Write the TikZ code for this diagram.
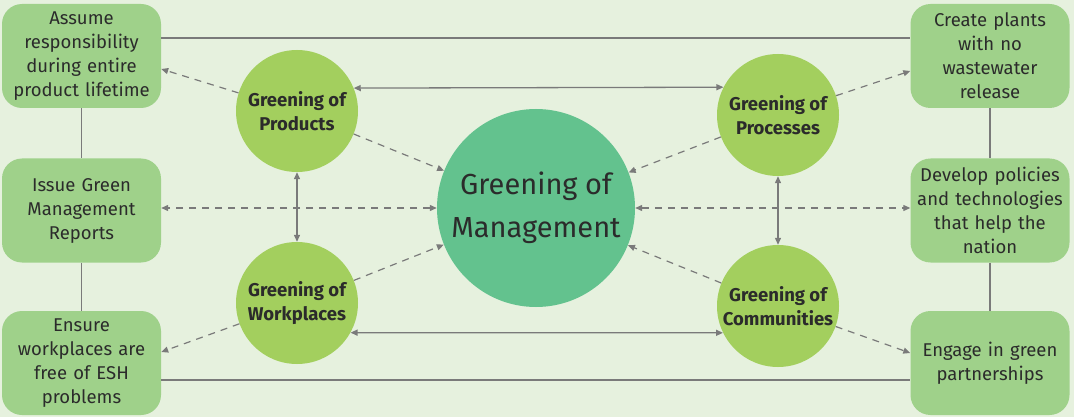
\documentclass[tikz,border=0pt]{standalone}
\usepackage{fontspec}
\setmainfont{Fira Sans}
\usetikzlibrary{arrows.meta}
\definecolor{bg}{HTML}{E6F1DE}
\definecolor{boxc}{HTML}{9FD18A}
\definecolor{smallc}{HTML}{A3CF5E}
\definecolor{bigc}{HTML}{63C28E}
\definecolor{linec}{HTML}{7A7A7A}
\definecolor{txtc}{HTML}{2B2B2B}
\begin{document}
\begin{tikzpicture}[x=1pt,y=-1pt,
  infobox/.style={fill=boxc,rounded corners=20pt,minimum width=159pt,minimum height=104pt,
    text width=155pt,align=center,inner sep=0pt,text=txtc,font=\fontsize{18.5}{24}\selectfont},
  smallcirc/.style={circle,fill=smallc,minimum size=122pt,inner sep=0pt,align=center,
    text=txtc,font=\fontsize{18.5}{24}\selectfont\bfseries},
  bigcirc/.style={circle,fill=bigc,minimum size=198pt,inner sep=0pt,align=center,
    text=txtc,font=\fontsize{29}{43}\selectfont},
  solidln/.style={draw=linec,line width=1.4pt},
  solidarr/.style={draw=linec,line width=1.3pt,{Triangle[length=7pt,width=6pt]}-{Triangle[length=7pt,width=6pt]}},
  dasharr/.style={draw=linec,line width=1.2pt,dash pattern=on 7pt off 6pt,-{Triangle[length=7pt,width=6pt]}},
  dashdbl/.style={draw=linec,line width=1.2pt,dash pattern=on 7pt off 6pt,{Triangle[length=7pt,width=6pt]}-{Triangle[length=7pt,width=6pt]}}
]
\fill[bg] (0,0) rectangle (1074,417);
\useasboundingbox (0,0) rectangle (1074,417);

\node[infobox] (b1) at (81.5,56) {Assume\\responsibility\\during entire\\product lifetime};
\node[infobox] (b2) at (81.5,210.5) {Issue Green\\Management\\Reports};
\node[infobox] (b3) at (81.5,363) {Ensure\\workplaces are\\free of ESH\\problems};
\node[infobox] (r1) at (990,56) {Create plants\\with no\\wastewater\\release};
\node[infobox] (r2) at (990,210.5) {Develop policies\\and technologies\\that help the\\nation};
\node[infobox] (r3) at (990,363) {Engage in green\\partnerships};

\node[smallcirc] (prod) at (297,111) {Greening of\\Products};
\node[smallcirc] (proc) at (778,115) {Greening of\\Processes};
\node[smallcirc] (work) at (297,303) {Greening of\\Workplaces};
\node[smallcirc] (comm) at (778,306) {Greening of\\Communities};
\node[bigcirc] (mgmt) at (536,208) {Greening of\\Management};

% solid connectors
\draw[solidln] (b1.south) -- (b2.north);
\draw[solidln] (b2.south) -- (b3.north);
\draw[solidln] (r1.south) -- (r2.north);
\draw[solidln] (r2.south) -- (r3.north);
\draw[solidln] ([yshift=18pt]b1.east) -- ([yshift=18pt]r1.west);
\draw[solidln] ([yshift=-17pt]b3.east) -- ([yshift=-17pt]r3.west);

% solid double arrows
\draw[solidarr] (prod.22) -- (proc.153.7);
\draw[solidarr] (work.-29.5) -- (comm.206.3);
\draw[solidarr] (prod.south) -- (work.north);
\draw[solidarr] (proc.south) -- (comm.north);

% dashed arrows
\draw[dasharr] (prod) -- ([yshift=-13pt]b1.east);
\draw[dasharr] (proc) -- ([yshift=-15pt]r1.west);
\draw[dasharr] (work) -- ([yshift=11pt]b3.east);
\draw[dasharr] (comm) -- ([yshift=10pt]r3.west);
\draw[dasharr] (prod) -- (mgmt);
\draw[dasharr] (proc) -- (mgmt);
\draw[dasharr] (work) -- (mgmt);
\draw[dasharr] (comm) -- (mgmt);
\draw[dashdbl] (mgmt.west) -- (mgmt.west -| b2.east);
\draw[dashdbl] (mgmt.east) -- (mgmt.east -| r2.west);
\end{tikzpicture}
\end{document}
